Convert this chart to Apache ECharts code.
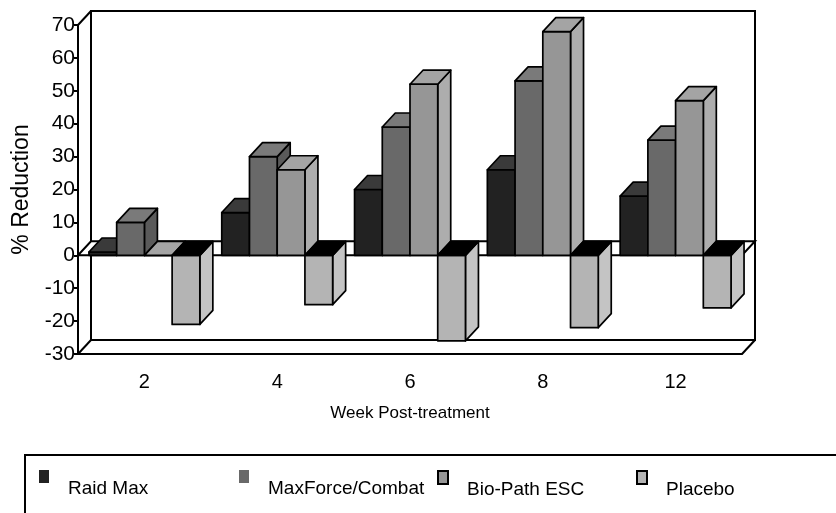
<!DOCTYPE html>
<html><head><meta charset="utf-8">
<script src="https://cdn.jsdelivr.net/npm/echarts@6/dist/echarts.min.js"></script>
<style>html,body{margin:0;padding:0;background:#fff}#c{width:836px;height:513px}</style>
</head><body><div id="c"></div>
<script>
const weeks = ['2', '4', '6', '8', '12'];
const raidMax = [1, 13, 20, 26, 18];
const maxForce = [10, 30, 39, 53, 35];
const bioPath = [0, 26, 52, 68, 47];
const placebo = [-21, -15, -26, -22, -16];
const seriesNames = ['Raid Max', 'MaxForce/Combat', 'Bio-Path ESC', 'Placebo'];
const yTicks = { min: -30, max: 70, interval: 10 };

const DX = 13, DY = 14, GAP = 0.165;
const FONT = "'Liberation Sans', Arial, sans-serif";
const palette = [
  { front: '#222222', top: '#3a3a3a', side: '#161616' },
  { front: '#696969', top: '#7a7a7a', side: '#5a5a5a' },
  { front: '#969696', top: '#a4a4a4', side: '#adadad' },
  { front: '#b4b4b4', top: '#b4b4b4', side: '#c4c4c4' }
];

function barRender(idx) {
  const col = palette[idx];
  return function (params, api) {
    const cat = api.value(0), val = api.value(1);
    const band = api.size([1, 0])[0];
    const groupW = band * (1 - GAP);
    const w = groupW / 4;
    const z = api.coord([cat, 0]);
    const p = api.coord([cat, val]);
    const x = z[0] - groupW / 2 + idx * w;
    const y0 = z[1], y1 = p[1];
    const yt = Math.min(y0, y1), yb = Math.max(y0, y1);
    const topColor = val < 0 ? '#000' : col.top;
    const st = { stroke: '#000', lineWidth: 1.7, lineJoin: 'round' };
    return {
      type: 'group',
      children: [
        { type: 'polygon', shape: { points: [[x + w, yt], [x + w + DX, yt - DY], [x + w + DX, yb - DY], [x + w, yb]] },
          style: Object.assign({ fill: col.side }, st) },
        { type: 'rect', shape: { x: x, y: yt, width: w, height: yb - yt },
          style: Object.assign({ fill: col.front }, st) },
        { type: 'polygon', shape: { points: [[x, yt], [x + DX, yt - DY], [x + w + DX, yt - DY], [x + w, yt]] },
          style: Object.assign({ fill: topColor }, st) }
      ]
    };
  };
}

function frameRender(params, api) {
  const cs = params.coordSys;
  const L = cs.x, T = cs.y, R = cs.x + cs.width, B = cs.y + cs.height;
  const y0 = api.coord([0, 0])[1];
  const st = { stroke: '#000', lineWidth: 2, fill: null };
  return {
    type: 'group',
    children: [
      { type: 'rect', shape: { x: L + DX, y: T - DY, width: R - L, height: B - T }, style: st },
      { type: 'line', shape: { x1: L, y1: T, x2: L + DX, y2: T - DY }, style: st },
      { type: 'line', shape: { x1: L, y1: B, x2: L + DX, y2: B - DY }, style: st },
      { type: 'line', shape: { x1: R, y1: B, x2: R + DX, y2: B - DY }, style: st },
      { type: 'polygon', shape: { points: [[L, y0], [L + DX, y0 - DY], [R + DX, y0 - DY], [R, y0]] },
        style: { stroke: '#000', lineWidth: 2, fill: '#fff' } }
    ]
  };
}

const allData = [raidMax, maxForce, bioPath, placebo];
const series = [{
  type: 'custom', name: 'frame', renderItem: frameRender, data: [[0, 0]],
  encode: { x: 0, y: 1 }, silent: true, z: 1
}];
allData.forEach((arr, i) => {
  series.push({
    type: 'custom', name: seriesNames[i], renderItem: barRender(i),
    data: arr.map((v, k) => [k, v]), encode: { x: 0, y: 1 }, z: 3,
    itemStyle: { color: palette[i].front, borderColor: '#000', borderWidth: i >= 2 ? 1.5 : 0 }
  });
});

// icon occupies the upper part of the symbol box so that the label sits lower, as in the source
const ICON = 'path://M0,0H10V13H0Z M0,38L0.001,38';
const legendX = [39, 239, 437, 636];
const legends = seriesNames.map((n, i) => ({
  data: [n], left: legendX[i], top: 470, padding: 0, icon: ICON,
  itemWidth: 10, itemHeight: 38, selectedMode: false,
  textStyle: { fontFamily: FONT, fontSize: 19, color: '#000', padding: [0, 0, 0, 14] }
}));

const chart = echarts.init(document.getElementById('c'), null, { renderer: 'canvas' });
chart.setOption({
  animation: false,
  backgroundColor: '#fff',
  grid: { left: 78, right: 94, top: 25, bottom: 159 },
  legend: legends,
  graphic: [{ type: 'rect', shape: { x: 25, y: 455, width: 900, height: 100 },
    style: { fill: null, stroke: '#000', lineWidth: 2 }, z: 10 }],
  xAxis: {
    type: 'category', data: weeks, boundaryGap: true,
    name: 'Week Post-treatment', nameLocation: 'middle', nameGap: 51,
    nameTextStyle: { fontFamily: FONT, fontSize: 17, color: '#000' },
    axisLine: { onZero: false, lineStyle: { color: '#000', width: 2 } },
    axisTick: { length: 8, lineStyle: { color: '#000', width: 2 } },
    axisLabel: { fontFamily: FONT, fontSize: 20, color: '#000', margin: 18 },
    splitLine: { show: false }
  },
  yAxis: {
    type: 'value', min: yTicks.min, max: yTicks.max, interval: yTicks.interval,
    name: '% Reduction', nameLocation: 'middle', nameGap: 45, nameRotate: 90,
    nameTextStyle: { fontFamily: FONT, fontSize: 23, color: '#000' },
    axisLine: { show: true, lineStyle: { color: '#000', width: 2 } },
    axisTick: { show: true, length: 4, lineStyle: { color: '#000', width: 2 } },
    axisLabel: { fontFamily: FONT, fontSize: 21, color: '#000', margin: 3 },
    splitLine: { show: false }
  },
  series: series
});
</script></body></html>
